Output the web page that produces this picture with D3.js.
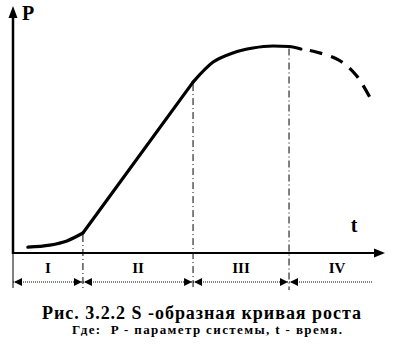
<!DOCTYPE html>
<html>
<head>
<meta charset="utf-8">
<script src="https://cdn.jsdelivr.net/npm/d3@7/dist/d3.min.js"></script>
<style>
  html, body { margin: 0; padding: 0; background: #fff; }
  svg { display: block; }
  text { font-family: "Liberation Serif", "Times New Roman", serif; font-weight: bold; fill: #000; }
  .note { white-space: pre; }
</style>
</head>
<body>
<svg id="chart" width="398" height="349"></svg>
<script>
// S-shaped growth curve, split into its four phases (t, P in relative units 0..100)
const phaseI   = [[4.0, 2.4], [9.9, 3.2], [14.5, 4.9], [18.8, 8.1]];
const phaseII  = [[18.8, 8.1], [48.4, 69.2]];
const phaseIII = [[48.4, 69.2], [53.8, 77.3], [59.1, 81.0], [64.5, 83.0], [69.9, 83.8], [74.2, 83.6], [77.4, 82.6]];
const phaseIV  = [[77.4, 82.6], [81.5, 81.4], [87.6, 78.1], [92.2, 72.1], [96.2, 62.3]];

// phase boundaries on t and the curve level at each boundary
const boundaryT = [18.8, 48.4, 74.2];
const boundaryP = [8.1, 69.2, 83.6];
const phaseEdges = [0, 18.8, 48.4, 74.2, 100];
const phaseLabels = ["I", "II", "III", "IV"];
const rowEnd = 96.8;

const captionMain = "Рис. 3.2.2 S -образная кривая роста";
const captionNote = "Где:  P - параметр системы, t - время.";

const svg = d3.select("#chart");
const x = d3.scaleLinear().domain([0, 100]).range([13, 385]);
const y = d3.scaleLinear().domain([0, 100]).range([253, 6]);

const x0 = x(0), y0 = y(0);
const rowY = y0 + 29;

// axes with arrowheads
svg.append("line").attr("x1", x0).attr("y1", y0 + 1).attr("x2", x0).attr("y2", y(100) + 8)
  .attr("stroke", "#000").attr("stroke-width", 2.5);
svg.append("path")
  .attr("d", `M${x0},${y(100)} L${x0 - 4.5},${y(100) + 12} L${x0 + 4.5},${y(100) + 12} Z`)
  .attr("fill", "#000");
svg.append("line").attr("x1", x0).attr("y1", y0).attr("x2", x(100) - 8).attr("y2", y0)
  .attr("stroke", "#000").attr("stroke-width", 2.2);
svg.append("path")
  .attr("d", `M${x(100)},${y0} L${x(100) - 11},${y0 - 4.5} L${x(100) - 11},${y0 + 4.5} Z`)
  .attr("fill", "#000");

// axis names
svg.append("text").attr("x", 22).attr("y", 20).attr("font-size", 20).text("P");
svg.append("text").attr("x", 354).attr("y", 232).attr("text-anchor", "middle").attr("font-size", 20).text("t");

// phase boundaries (dash-dot verticals)
svg.selectAll("line.bound").data(boundaryT).join("line")
  .attr("class", "bound")
  .attr("x1", d => x(d)).attr("x2", d => x(d))
  .attr("y1", (d, i) => y(boundaryP[i]) + 2).attr("y2", y0 + 37)
  .attr("stroke", "#000").attr("stroke-width", 1)
  .attr("stroke-dasharray", "7,3,1,3");

// left edge tick of the phase row
svg.append("line").attr("x1", x0).attr("x2", x0).attr("y1", y0).attr("y2", y0 + 35)
  .attr("stroke", "#000").attr("stroke-width", 1);

// dotted phase row
svg.append("line").attr("x1", x0).attr("x2", x(rowEnd)).attr("y1", rowY).attr("y2", rowY)
  .attr("stroke", "#000").attr("stroke-width", 1).attr("stroke-dasharray", "1,1");

// arrowheads at the ends of each phase span
const heads = [];
heads.push({ at: x0 + 1, dir: -1 });
boundaryT.forEach(t => { heads.push({ at: x(t) - 1, dir: 1 }); heads.push({ at: x(t) + 1, dir: -1 }); });
svg.selectAll("path.head").data(heads).join("path")
  .attr("class", "head")
  .attr("d", d => `M${d.at},${rowY} L${d.at - d.dir * 8},${rowY - 4} L${d.at - d.dir * 8},${rowY + 4} Z`)
  .attr("fill", "#000");

// phase labels
svg.selectAll("text.phase").data(phaseLabels).join("text")
  .attr("class", "phase")
  .attr("x", (d, i) => x((phaseEdges[i] + phaseEdges[i + 1]) / 2))
  .attr("y", y0 + 20)
  .attr("text-anchor", "middle").attr("font-size", 15)
  .text(d => d);

// the curve
const smooth = d3.line().x(d => x(d[0])).y(d => y(d[1])).curve(d3.curveMonotoneX);
const straight = d3.line().x(d => x(d[0])).y(d => y(d[1]));
[[phaseI, smooth], [phaseII, straight], [phaseIII, smooth]].forEach(([pts, gen]) => {
  svg.append("path").attr("d", gen(pts)).attr("fill", "none")
    .attr("stroke", "#000").attr("stroke-width", 3.2).attr("stroke-linecap", "round");
});
svg.append("path").attr("d", d3.line().x(d => x(d[0])).y(d => y(d[1])).curve(d3.curveCatmullRom)(phaseIV))
  .attr("fill", "none").attr("stroke", "#000").attr("stroke-width", 3.2)
  .attr("stroke-dasharray", "13,9").attr("stroke-dashoffset", 13);

// caption
svg.append("text").attr("x", 42).attr("y", 319)
  .attr("font-size", 18).attr("textLength", 319).attr("lengthAdjust", "spacing").text(captionMain);
svg.append("text").attr("class", "note").attr("x", 72).attr("y", 334)
  .attr("font-size", 13).attr("textLength", 270).attr("lengthAdjust", "spacing").text(captionNote);
</script>
</body>
</html>
